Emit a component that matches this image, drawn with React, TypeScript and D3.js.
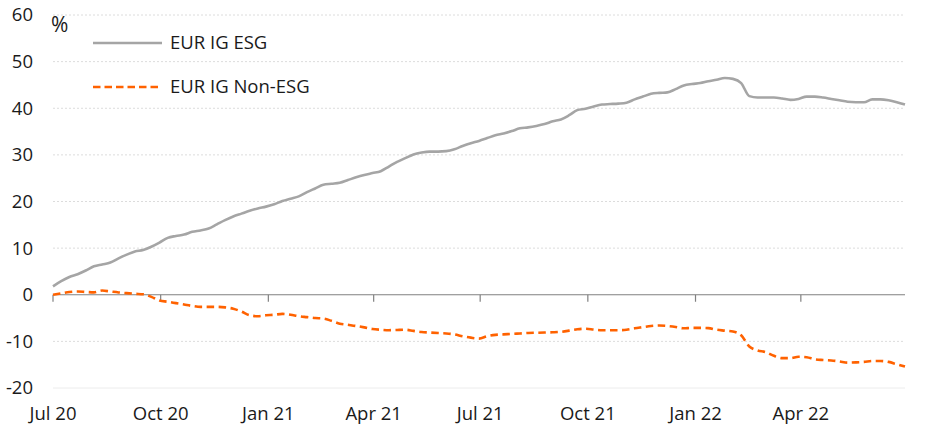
import React from 'react';
import * as d3 from 'd3';

// weekly observations starting 1 July 2020
const startDate = new Date(2020, 6, 1);

const esgValues: number[] = [
  1.8, 2.9, 3.8, 4.4, 5.2, 6.1, 6.5, 6.9, 7.8, 8.6,
  9.3, 9.6, 10.3, 11.2, 12.2, 12.6, 12.9, 13.5, 13.8, 14.2,
  15.1, 16.0, 16.8, 17.4, 18.0, 18.5, 18.9, 19.4, 20.1, 20.6,
  21.1, 22.0, 22.8, 23.6, 23.8, 24.0, 24.6, 25.2, 25.7, 26.1,
  26.5, 27.5, 28.5, 29.3, 30.1, 30.5, 30.7, 30.7, 30.8, 31.2,
  31.9, 32.5, 33.0, 33.6, 34.2, 34.6, 35.1, 35.7, 35.9, 36.2,
  36.6, 37.2, 37.6, 38.5, 39.6, 39.9, 40.4, 40.8, 40.9, 41.0,
  41.2, 41.9, 42.5, 43.1, 43.3, 43.4, 44.1, 44.9, 45.2, 45.4,
  45.8, 46.1, 46.5, 46.3, 45.4, 42.6, 42.3, 42.3, 42.3, 42.1,
  41.8, 42.0, 42.5, 42.5, 42.3, 42.0, 41.7, 41.4, 41.3, 41.3,
  41.9, 41.9, 41.7, 41.3, 40.8,
];

const nonEsgValues: number[] = [
  0.0, 0.3, 0.6, 0.7, 0.6, 0.5, 0.9, 0.7, 0.5, 0.35,
  0.2, 0.1, -0.45, -1.25, -1.5, -1.8, -2.1, -2.4, -2.6, -2.6,
  -2.6, -2.7, -3.0, -3.6, -4.4, -4.6, -4.4, -4.3, -4.1, -4.3,
  -4.6, -4.8, -5.0, -5.1, -5.6, -6.2, -6.45, -6.7, -7.0, -7.35,
  -7.5, -7.6, -7.55, -7.5, -7.75, -8.0, -8.1, -8.2, -8.3, -8.5,
  -8.9, -9.2, -9.4, -8.9, -8.6, -8.5, -8.4, -8.3, -8.2, -8.15,
  -8.1, -8.05, -7.95, -7.7, -7.4, -7.3, -7.45, -7.6, -7.6, -7.6,
  -7.5, -7.2, -6.95, -6.7, -6.6, -6.7, -6.9, -7.2, -7.1, -7.1,
  -7.15, -7.5, -7.7, -7.9, -8.7, -11.1, -11.95, -12.3, -13.1, -13.6,
  -13.6, -13.3, -13.4, -13.85, -14.0, -14.1, -14.3, -14.55, -14.5, -14.4,
  -14.2, -14.2, -14.4, -14.9, -15.4,
];

const dates: Date[] = esgValues.map((_, i) => d3.timeWeek.offset(startDate, i));

const yTicks: number[] = [-20, -10, 0, 10, 20, 30, 40, 50, 60];
const xTickDates: Date[] = [
  new Date(2020, 6, 1),
  new Date(2020, 9, 1),
  new Date(2021, 0, 1),
  new Date(2021, 3, 1),
  new Date(2021, 6, 1),
  new Date(2021, 9, 1),
  new Date(2022, 0, 1),
  new Date(2022, 3, 1),
];
const xTickLabels: string[] = ['Jul 20', 'Oct 20', 'Jan 21', 'Apr 21', 'Jul 21', 'Oct 21', 'Jan 22', 'Apr 22'];

const seriesNames: string[] = ['EUR IG ESG', 'EUR IG Non-ESG'];

const W = 952;
const H = 432;
const FONT = "'Open Sans', sans-serif";
const FS = 18.5;
const GREY = '#a5a5a5';
const ORANGE = '#ff6200';
const INK = '#1a1a1a';

const App: React.FC = () => {
  const x = d3.scaleTime().domain([startDate, dates[dates.length - 1]]).range([53, 905]);
  const y = d3.scaleLinear().domain([-20, 60]).range([388, 15]);

  const line = d3
    .line<number>()
    .x((_, i) => x(dates[i]))
    .y((d) => y(d))
    .curve(d3.curveMonotoneX);

  const [x0, x1] = x.range();

  return (
    <svg width={W} height={H} style={{ position: 'absolute', left: 0, top: 0 }} fontFamily={FONT}>
      <rect width={W} height={H} fill="#fff" />

      {yTicks.map((t) =>
        t === 0 ? null : (
          <line
            key={'g' + t}
            x1={x0}
            x2={x1}
            y1={y(t)}
            y2={y(t)}
            stroke={t === -20 ? '#ececec' : '#dcdcdc'}
            strokeWidth={1}
            strokeDasharray={t === -20 ? undefined : '2,2'}
          />
        )
      )}

      {yTicks.map((t) => (
        <text key={'yl' + t} x={33} y={y(t)} dy="0.35em" textAnchor="end" fontSize={FS} fill={INK}>
          {t}
        </text>
      ))}
      <text x={51} y={25} dy="0.35em" fontSize={21} fill={INK}>
        %
      </text>

      <line x1={x0} x2={x1} y1={y(0)} y2={y(0)} stroke="#808080" strokeWidth={1.2} />
      {xTickDates.map((d, i) => (
        <g key={'xt' + i} transform={`translate(${x(d)},0)`}>
          <line y1={y(0)} y2={y(0) + 7} stroke="#808080" strokeWidth={1.2} />
          <text y={414} dy="0.35em" textAnchor="middle" fontSize={FS} fill={INK}>
            {xTickLabels[i]}
          </text>
        </g>
      ))}

      <path d={line(esgValues) ?? ''} fill="none" stroke={GREY} strokeWidth={2.6} />
      <path
        d={line(nonEsgValues) ?? ''}
        fill="none"
        stroke={ORANGE}
        strokeWidth={2.6}
        strokeDasharray="7.5,4.5"
      />

      <line x1={93} x2={162} y1={43} y2={43} stroke={GREY} strokeWidth={2.6} />
      <text x={170} y={43} dy="0.35em" fontSize={FS} fill={INK}>
        {seriesNames[0]}
      </text>
      <line x1={93} x2={162} y1={87} y2={87} stroke={ORANGE} strokeWidth={2.6} strokeDasharray="7.5,4" />
      <text x={170} y={87} dy="0.35em" fontSize={FS} fill={INK}>
        {seriesNames[1]}
      </text>
    </svg>
  );
};

export default App;
